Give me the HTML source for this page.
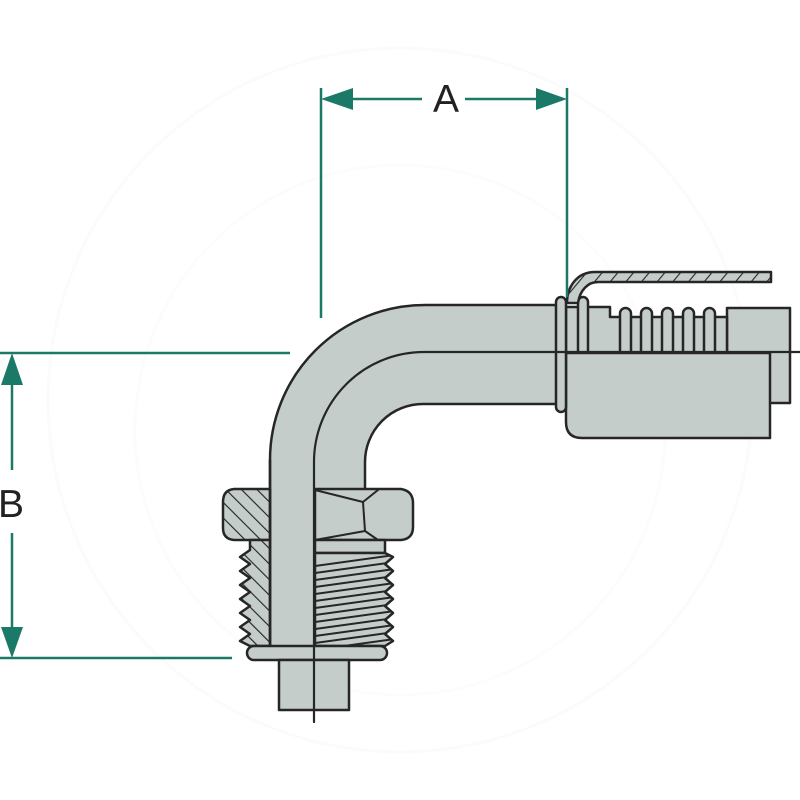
<!DOCTYPE html>
<html>
<head>
<meta charset="utf-8">
<style>
  html,body{margin:0;padding:0;background:#fff;}
  svg{display:block;}
  text{font-family:"Liberation Sans", sans-serif;}
</style>
</head>
<body>
<svg width="800" height="800" viewBox="0 0 800 800" xmlns="http://www.w3.org/2000/svg">
  <defs>
    <pattern id="hb" width="11" height="11" patternUnits="userSpaceOnUse" patternTransform="rotate(-45)">
      <rect width="11" height="11" fill="#c5cdcb"/>
      <line x1="0" y1="0" x2="0" y2="11" stroke="#262626" stroke-width="2.3"/>
    </pattern>
    <pattern id="hf" width="12" height="12" patternUnits="userSpaceOnUse" patternTransform="rotate(40)">
      <rect width="12" height="12" fill="#c5cdcb"/>
      <line x1="0" y1="0" x2="0" y2="12" stroke="#262626" stroke-width="2.2"/>
    </pattern>
    <clipPath id="rthr">
      <path d="M315,553 L385,553 L393,557 L385,564 L393,571 L385,578 L393,585 L385,592 L393,599 L385,606 L393,613 L385,620 L393,627 L385,634 L393,641 L385,646 L315,646 Z"/>
    </clipPath>
  </defs>

  <!-- faint watermark -->
  <circle cx="400" cy="400" r="352" fill="none" stroke="#fbfbfb" stroke-width="3"/>
  <circle cx="400" cy="430" r="265" fill="none" stroke="#fcfcfc" stroke-width="3"/>

  <g stroke="#262626" stroke-width="2.5" stroke-linejoin="round" stroke-linecap="round">
    <!-- hose end: end rect -->
    <rect x="727" y="308" width="63" height="95" fill="#c5cdcb"/>
    <!-- ferrule upper body -->
    <path d="M566,307 L610,307 L610,317 L727,317 L727,353 L566,353 Z" fill="#c5cdcb"/>
    <!-- ribs -->
    <rect x="578" y="297" width="10" height="62" rx="5" fill="#c5cdcb"/>
    <rect x="620" y="308" width="11" height="52" rx="5.5" fill="#c5cdcb"/>
    <rect x="641" y="308" width="11" height="52" rx="5.5" fill="#c5cdcb"/>
    <rect x="662" y="308" width="11" height="52" rx="5.5" fill="#c5cdcb"/>
    <rect x="683" y="308" width="11" height="52" rx="5.5" fill="#c5cdcb"/>
    <rect x="704" y="308" width="11" height="52" rx="5.5" fill="#c5cdcb"/>
    <!-- ferrule lower -->
    <path d="M566,353 L770,353 L770,438 L582,438 Q566,438 566,422 Z" fill="#c5cdcb"/>

    <!-- tube fill -->
    <path d="M270,646 L270,460 A155,155 0 0 1 425,305 L556,305 L556,404 L423,404 A58,58 0 0 0 365,462 L365,489 L315,489 L315,646 Z" fill="#c5cdcb" stroke="none"/>
    <!-- tube strokes -->
    <path d="M270,646 L270,460 A155,155 0 0 1 425,305 L557,305" fill="none"/>
    <path d="M365,490 L365,462 A58,58 0 0 1 423,404 L557,404" fill="none"/>

    <!-- ring -->
    <rect x="556" y="297" width="10" height="115" rx="5" fill="#c5cdcb"/>
    <!-- hose sheath -->
    <path d="M567,303 C567,288 576,272 595,272 L771,272 L771,282 L598,282 C588,282 580,290 578,303 Z" fill="url(#hf)"/>

    <!-- hex nut left (section) -->
    <path d="M270,489 L234,489 Q223,490 223,502 L223,528 Q223,539 234,540 L270,540 Z" fill="url(#hb)"/>
    <!-- hex nut right -->
    <path d="M315,489 L401,489 Q413,491 413,503 L413,527 Q413,539 401,540 L315,540 Z" fill="#c5cdcb"/>
    <path d="M315,490 L363,502 L378,490 M363,502 L365,531 L378,540 M365,531 L315,540" fill="none" stroke-width="2"/>

    <!-- left thread section -->
    <path d="M270,540 L250,540 L250,550 L240,557 L250,564 L240,571 L250,578 L240,585 L250,592 L240,599 L250,606 L240,613 L250,620 L240,627 L250,634 L240,641 L250,646 L270,646 Z" fill="url(#hb)"/>

    <!-- right undercut band -->
    <rect x="315" y="540" width="70" height="13" fill="#c5cdcb"/>
    <!-- right thread -->
    <path d="M315,553 L385,553 L393,557 L385,564 L393,571 L385,578 L393,585 L385,592 L393,599 L385,606 L393,613 L385,620 L393,627 L385,634 L393,641 L385,646 L315,646 Z" fill="#c5cdcb"/>
    <g clip-path="url(#rthr)" stroke-width="2">
      <line x1="315" y1="566" x2="395" y2="555"/>
      <line x1="315" y1="573" x2="395" y2="562"/>
      <line x1="315" y1="580" x2="395" y2="569"/>
      <line x1="315" y1="587" x2="395" y2="576"/>
      <line x1="315" y1="594" x2="395" y2="583"/>
      <line x1="315" y1="601" x2="395" y2="590"/>
      <line x1="315" y1="608" x2="395" y2="597"/>
      <line x1="315" y1="615" x2="395" y2="604"/>
      <line x1="315" y1="622" x2="395" y2="611"/>
      <line x1="315" y1="629" x2="395" y2="618"/>
      <line x1="315" y1="636" x2="395" y2="625"/>
      <line x1="315" y1="643" x2="395" y2="632"/>
      <line x1="315" y1="650" x2="395" y2="639"/>
    </g>

    <!-- tube left band edge through nut -->
    <line x1="270" y1="460" x2="270" y2="646"/>

    <!-- washer -->
    <rect x="247" y="646" width="140" height="14" rx="7" fill="#c5cdcb"/>
    <!-- stub -->
    <rect x="279" y="660" width="70" height="50" fill="#c5cdcb"/>

    <!-- centerline -->
    <path d="M314,722 L314,462 A110,110 0 0 1 424,352 L800,352" fill="none" stroke-width="2.2"/>
  </g>

  <!-- dimensions -->
  <g stroke="#1b7a67" stroke-width="2.5" fill="none">
    <line x1="321" y1="88" x2="321" y2="318"/>
    <line x1="567" y1="88" x2="567" y2="297"/>
    <line x1="350" y1="99" x2="422" y2="99"/>
    <line x1="465" y1="99" x2="539" y2="99"/>
    <line x1="0" y1="353" x2="290" y2="353"/>
    <line x1="0" y1="658" x2="232" y2="658"/>
    <line x1="12" y1="383" x2="12" y2="470"/>
    <line x1="12" y1="533" x2="12" y2="630"/>
  </g>
  <g fill="#1b7a67">
    <polygon points="321,99 353,88 353,110"/>
    <polygon points="567,99 536,88 536,110"/>
    <polygon points="12,353 1,385 23,385"/>
    <polygon points="12,658 1,627 23,627"/>
  </g>
  <text x="446" y="112" font-size="39" fill="#222" text-anchor="middle">A</text>
  <text x="11" y="517" font-size="39" fill="#222" text-anchor="middle">B</text>
</svg>
</body>
</html>
